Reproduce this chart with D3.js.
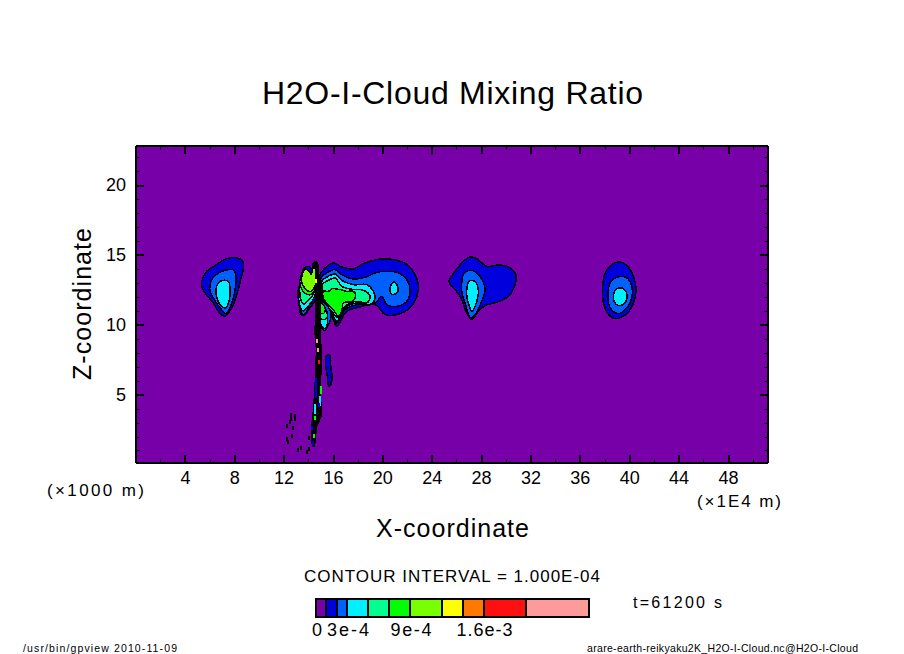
<!DOCTYPE html>
<html>
<head>
<meta charset="utf-8">
<script src="https://cdn.jsdelivr.net/npm/d3@7"></script>
<style>
  body { margin: 0; background: #fff; }
  text { font-family: "Liberation Sans", sans-serif; fill: #000; }
</style>
</head>
<body>
<svg id="chart" width="904" height="654"></svg>
<script>
// contour levels (kg/kg) and the colour of the band that starts at each one
const levels = [0, 1e-4, 2e-4, 3e-4, 5e-4, 7e-4, 9e-4, 1.2e-3, 1.4e-3, 1.6e-3, 2.0e-3, 2.6e-3];
const bandColors = ["#7800a8", "#0000dc", "#0060ff", "#00f0ff", "#00ff90", "#00ff00", "#78ff00", "#ffff00", "#ff7800", "#ff1010", "#ff9a9a"];
const legendLabels = [[0, "0"], [3e-4, "3e-4"], [9e-4, "9e-4"], [1.6e-3, "1.6e-3"]];

const xMajor = [4, 8, 12, 16, 20, 24, 28, 32, 36, 40, 44, 48];
const xMinor = [2, 6, 10, 14, 18, 22, 26, 30, 34, 38, 42, 46, 50];
const zMajor = [5, 10, 15, 20];
const zMinor = [1, 2, 3, 4, 6, 7, 8, 9, 11, 12, 13, 14, 16, 17, 18, 19, 21, 22];

// contour outlines as [x (1E4 m), z (km)]
const cloudA1 = [[5.32,13.15],[5.73,13.87],[6.40,14.28],[7.35,14.78],[8.16,14.83],[8.65,14.58],[8.70,14.11],[8.48,13.27],[8.21,12.32],[7.76,11.25],[7.21,10.64],[6.81,10.84],[6.26,11.60],[5.59,12.32],[5.32,12.79]];
const cloudA2 = [[6.00,12.91],[6.22,13.39],[6.81,13.80],[7.48,13.99],[7.94,13.94],[8.10,13.51],[8.02,12.56],[7.76,11.60],[7.29,10.84],[6.81,11.25],[6.26,11.96],[6.00,12.43]];
const cloudA3 = [[6.48,12.56],[6.67,13.04],[7.07,13.22],[7.48,13.15],[7.62,12.56],[7.56,11.84],[7.29,11.25],[6.94,11.36],[6.59,11.84]];

const cloudB1 = [[14.91,13.63],[15.32,14.11],[15.99,14.47],[16.67,14.18],[17.61,14.04],[18.42,14.42],[19.51,14.71],[20.85,14.71],[21.94,14.35],[22.61,13.63],[22.88,12.91],[22.75,12.08],[22.20,11.25],[21.13,10.77],[20.18,10.77],[19.37,11.48],[17.89,11.25],[17.07,11.00],[16.26,9.93],[15.86,10.64],[15.18,11.12],[14.91,12.56]];
const cloudB2 = [[14.99,13.39],[15.45,13.75],[16.13,13.99],[16.67,13.63],[17.61,13.32],[18.70,13.47],[19.37,13.75],[20.32,13.87],[21.26,13.75],[21.94,13.27],[22.20,12.56],[21.94,11.72],[21.13,11.36],[20.32,11.48],[19.91,12.08],[19.37,11.60],[17.89,11.48],[16.94,11.12],[16.26,10.17],[15.86,10.77],[15.32,11.25],[15.05,12.08]];
const cloudB3 = [[15.05,13.15],[15.58,13.51],[16.13,13.68],[16.67,13.22],[17.61,12.91],[18.70,12.91],[19.23,12.43],[19.37,11.96],[18.96,11.48],[17.89,11.60],[16.94,11.25],[16.26,10.29],[15.86,10.89],[15.32,11.36],[15.10,12.08]];
const cloudB3b = [[20.58,12.68],[20.85,13.11],[21.13,12.91],[21.21,12.43],[20.85,12.20],[20.64,12.32]];
const cloudB4 = [[15.10,12.91],[15.58,13.22],[16.13,13.39],[16.67,12.79],[17.61,12.56],[18.42,12.51],[18.96,12.08],[18.70,11.60],[17.89,11.72],[16.94,11.36],[16.39,10.53],[15.86,11.00],[15.32,11.48],[15.13,12.20]];
const cloudB5 = [[15.18,12.43],[15.58,12.43],[15.86,12.61],[16.53,12.56],[17.07,12.43],[17.61,12.43],[17.80,12.08],[17.48,11.72],[16.80,11.60],[16.67,11.00],[16.39,10.64],[15.99,11.12],[15.45,11.60],[15.18,11.96]];

const wing1 = [[13.21,12.70],[13.37,13.54],[13.64,14.13],[14.02,14.21],[14.24,14.01],[14.37,14.49],[14.64,14.56],[14.78,13.89],[14.72,12.46],[14.51,11.75],[14.10,11.27],[13.64,10.74],[13.37,10.79],[13.21,11.51]];
const wing2 = [[13.26,12.10],[14.29,11.94],[13.97,11.27],[13.64,10.79],[13.43,10.84],[13.29,11.39]];
const wing3 = [[13.26,12.70],[14.51,12.34],[14.29,11.75],[13.83,11.27],[13.56,11.03],[13.32,11.27]];
const wing4 = [[13.29,12.94],[14.45,12.70],[14.24,12.03],[13.91,11.75],[13.64,11.51],[13.43,11.63],[13.29,12.22]];
const wing5 = [[13.32,13.30],[14.56,13.30],[14.37,12.34],[14.02,12.18],[13.64,12.34],[13.37,12.70]];
const wing6 = [[13.48,13.66],[13.70,14.01],[14.02,13.89],[14.18,13.66],[14.42,14.25],[14.59,14.25],[14.67,13.42],[14.51,12.82],[14.24,12.46],[13.91,12.46],[13.64,12.70],[13.43,13.06]];

const tail1 = [[14.91,11.70],[15.48,11.41],[15.80,10.69],[15.56,9.98],[15.24,9.62],[14.99,9.98]];
const tail3 = [[14.91,10.98],[15.40,10.69],[15.48,10.05],[15.24,9.76],[14.99,10.05]];
const tail4 = [[14.91,11.48],[15.40,11.12],[15.48,10.55],[15.16,10.41],[14.91,10.55]];
const tail5 = [[14.91,11.63],[15.24,11.41],[15.32,10.98],[15.07,10.83],[14.91,10.98]];

const cloudC1 = [[25.39,13.27],[25.85,13.87],[26.52,14.58],[27.07,14.90],[27.61,14.76],[28.42,14.23],[29.50,14.33],[30.31,14.11],[30.77,13.63],[30.71,12.91],[30.17,12.08],[29.23,11.65],[28.28,11.41],[27.74,11.00],[27.21,10.41],[26.80,10.89],[26.26,12.08],[25.71,12.68],[25.39,13.04]];
const cloudC2 = [[26.39,13.04],[26.52,13.63],[27.07,13.94],[27.61,13.75],[28.10,13.15],[28.28,12.56],[28.01,11.72],[27.47,10.77],[27.12,10.53],[26.66,11.60],[26.39,12.43]];
const cloudC3 = [[26.80,12.56],[26.93,13.08],[27.21,13.22],[27.55,13.04],[27.74,12.43],[27.61,11.72],[27.21,11.00],[26.93,11.60],[26.80,12.08]];

const cloudD1 = [[37.79,12.56],[38.01,13.75],[38.55,14.35],[39.22,14.54],[39.77,14.28],[40.30,13.51],[40.52,12.56],[40.30,11.60],[39.77,10.84],[38.82,10.48],[38.28,10.77],[37.87,11.60]];
const cloudD2 = [[38.23,12.20],[38.41,13.04],[39.09,13.47],[39.77,13.39],[40.17,12.79],[40.17,11.96],[39.77,11.25],[39.09,10.84],[38.55,11.07],[38.28,11.60]];
const cloudD3 = [[38.68,12.08],[38.82,12.51],[39.28,12.68],[39.69,12.43],[39.77,11.96],[39.55,11.55],[39.09,11.43],[38.76,11.65]];

const sliver = [[15.40,7.78],[15.67,7.90],[15.78,7.06],[15.88,6.35],[15.78,5.75],[15.62,5.63],[15.50,6.35],[15.37,7.06]];

// the dense black shaft where the contours pile up, and the patch on the wing's edge
const shaft = [[14.43,14.56],[14.51,13.27],[14.51,11.84],[14.51,10.41],[14.43,9.69],[14.56,8.26],[14.51,6.83],[14.43,5.39],[14.34,4.18],[14.26,3.46],[14.16,2.74],[14.16,2.03],[14.24,1.31],[14.51,1.31],[14.59,2.03],[14.69,2.74],[15.05,3.46],[15.05,4.18],[14.97,5.39],[15.05,6.83],[15.05,8.26],[14.97,9.69],[14.99,10.41],[14.99,11.84],[14.83,13.27],[14.70,14.56]];
const wingEdge = [[13.00,12.48],[13.25,12.63],[13.29,11.98],[13.05,11.98]];

// coloured flecks inside the shaft: x, z, band index
const flecks = [[14.69,8.90,10],[14.75,8.26,10],[14.85,7.36,9],[14.97,5.53,5],[14.97,5.25,5],[14.91,4.82,3],[14.91,4.60,3],[14.91,4.39,3],[14.53,4.25,3],[14.53,4.03,3],[14.53,3.82,3],[14.59,6.11,1],[14.59,5.82,1],[14.59,5.53,1],[14.59,5.25,1],[14.59,4.96,1],[14.83,4.32,1],[14.53,3.39,5],[14.29,2.67,1],[14.45,2.05,5],[14.32,1.60,1],[14.60,13.20,7]];

// isolated black specks low in the domain: x, z
const specks = [[12.54,3.60],[12.54,3.29],[12.48,3.05],[12.86,3.53],[12.86,3.29],[12.21,2.81],[12.75,2.65],[12.26,1.86],[12.62,2.10],[12.34,1.65],[13.15,1.10],[13.40,1.19],[13.83,0.93],[14.04,1.17],[14.04,1.93]];

const rings = [
  [cloudA1, 1], [cloudA2, 2], [cloudA3, 3],
  [cloudB1, 1], [cloudB2, 2], [cloudB3, 3], [cloudB3b, 3], [cloudB4, 4], [cloudB5, 5],
  [wing1, 1], [wing2, 2], [wing3, 3], [wing4, 4], [wing5, 5], [wing6, 6],
  [tail1, 2], [tail3, 3], [tail4, 4], [tail5, 5],
  [cloudC1, 1], [cloudC2, 2], [cloudC3, 3],
  [cloudD1, 1], [cloudD2, 2], [cloudD3, 3],
  [sliver, 1]
];

const svg = d3.select("#chart");
const plotL = 136, plotR = 768, plotT = 146, plotB = 463;

const x = d3.scaleLinear().domain([0, 51.2]).range([plotL, plotR]);
const z = d3.scaleLinear().domain([0.14, 22.84]).range([plotB, plotT]);
const legendX = d3.scaleLinear().domain([0, 2.6e-3]).range([315.5, 588.5]);

svg.append("clipPath").attr("id", "plot")
  .append("rect").attr("x", plotL).attr("y", plotT).attr("width", plotR - plotL).attr("height", plotB - plotT);

const field = svg.append("g").attr("clip-path", "url(#plot)").attr("shape-rendering", "crispEdges");

field.append("rect")
  .attr("x", plotL).attr("y", plotT)
  .attr("width", plotR - plotL).attr("height", plotB - plotT)
  .attr("fill", bandColors[0]);

const outline = d3.line().x(d => x(d[0])).y(d => z(d[1])).curve(d3.curveCatmullRomClosed.alpha(0.5));
const straight = d3.line().x(d => x(d[0])).y(d => z(d[1]));

field.selectAll("path.band")
  .data(rings)
  .join("path")
  .attr("class", "band")
  .attr("d", d => outline(d[0]))
  .attr("fill", d => bandColors[d[1]])
  .attr("stroke", "#000")
  .attr("stroke-width", 1.5);

field.selectAll("path.solid")
  .data([shaft, wingEdge])
  .join("path")
  .attr("class", "solid")
  .attr("d", d => straight(d) + "Z")
  .attr("fill", "#000");

field.selectAll("rect.fleck")
  .data(flecks)
  .join("rect")
  .attr("class", "fleck")
  .attr("x", d => x(d[0]) - 1).attr("y", d => z(d[1]) - 2)
  .attr("width", 2).attr("height", 4)
  .attr("fill", d => bandColors[d[2]]);

field.selectAll("rect.speck")
  .data(specks)
  .join("rect")
  .attr("class", "speck")
  .attr("x", d => x(d[0]) - 1).attr("y", d => z(d[1]) - 2)
  .attr("width", 2).attr("height", 4)
  .attr("fill", "#000");

// ticks point inward on all four sides, so the sizes are negative
function drawAxis(axis, tx, ty, values, size, width, labelled) {
  const g = svg.append("g")
    .attr("transform", `translate(${tx},${ty})`)
    .attr("shape-rendering", "crispEdges")
    .call(axis.offset(0).tickValues(values).tickSize(-size).tickSizeOuter(0).tickPadding(0)
      .tickFormat(labelled ? d3.format("d") : ""));
  g.selectAll("line").attr("stroke", "#000").attr("stroke-width", width);
  g.select(".domain").attr("stroke", "#000").attr("stroke-width", 2);
  return g;
}

drawAxis(d3.axisTop(x), 0, plotT, xMinor, 4, 1, false);
drawAxis(d3.axisTop(x), 0, plotT, xMajor, 8, 2, false);
drawAxis(d3.axisRight(z), plotR, 0, zMinor, 4, 1, false);
drawAxis(d3.axisRight(z), plotR, 0, zMajor, 8, 2, false);
drawAxis(d3.axisBottom(x), 0, plotB, xMinor, 4, 1, false);
drawAxis(d3.axisLeft(z), plotL, 0, zMinor, 4, 1, false);

drawAxis(d3.axisBottom(x), 0, plotB, xMajor, 8, 2, true)
  .selectAll("text")
  .attr("font-size", 18).attr("font-family", "Liberation Sans")
  .attr("y", 8);

drawAxis(d3.axisLeft(z), plotL, 0, zMajor, 8, 2, true)
  .selectAll("text")
  .attr("font-size", 18).attr("font-family", "Liberation Sans")
  .attr("x", -10);

// every label is fitted to the width it has in the reference
function label(str, xPos, yPos, size, len, anchor) {
  return svg.append("text")
    .attr("x", xPos).attr("y", yPos)
    .attr("font-size", size)
    .attr("text-anchor", anchor || "start")
    .attr("textLength", len)
    .attr("lengthAdjust", "spacing")
    .text(str);
}

label("H2O-I-Cloud Mixing Ratio", 262, 104, 32, 381);
label("X-coordinate", 376, 537, 25, 153);
label("Z-coordinate", 0, 0, 25, 152)
  .attr("transform", "translate(91,380) rotate(-90)");
label("(×1000 m)", 47, 496, 17, 97);
label("(×1E4 m)", 697, 507, 17, 84);
label("CONTOUR INTERVAL = 1.000E-04", 304, 582, 17, 296);
label("t=61200 s", 633, 608, 16, 89);
label("/usr/bin/gpview   2010-11-09", 23, 652, 10.5, 154);
label("arare-earth-reikyaku2K_H2O-I-Cloud.nc@H2O-I-Cloud", 587, 652, 10.5, 271);

// colour bar
const legend = svg.append("g").attr("shape-rendering", "crispEdges");
legend.selectAll("rect")
  .data(bandColors)
  .join("rect")
  .attr("x", (d, i) => legendX(levels[i]))
  .attr("y", 599)
  .attr("width", (d, i) => legendX(levels[i + 1]) - legendX(levels[i]))
  .attr("height", 18)
  .attr("fill", d => d)
  .attr("stroke", "#000")
  .attr("stroke-width", 2);

// label widths as measured on the reference
const legendLabelWidths = [10, 42, 41, 56];
svg.selectAll("text.legendLabel")
  .data(legendLabels)
  .join("text")
  .attr("class", "legendLabel")
  .attr("x", d => legendX(d[0]) + (d[0] === 0 ? 1.5 : 1))
  .attr("y", 636)
  .attr("font-size", 18)
  .attr("text-anchor", "middle")
  .attr("textLength", (d, i) => legendLabelWidths[i])
  .attr("lengthAdjust", "spacing")
  .text(d => d[1]);
</script>
</body>
</html>
